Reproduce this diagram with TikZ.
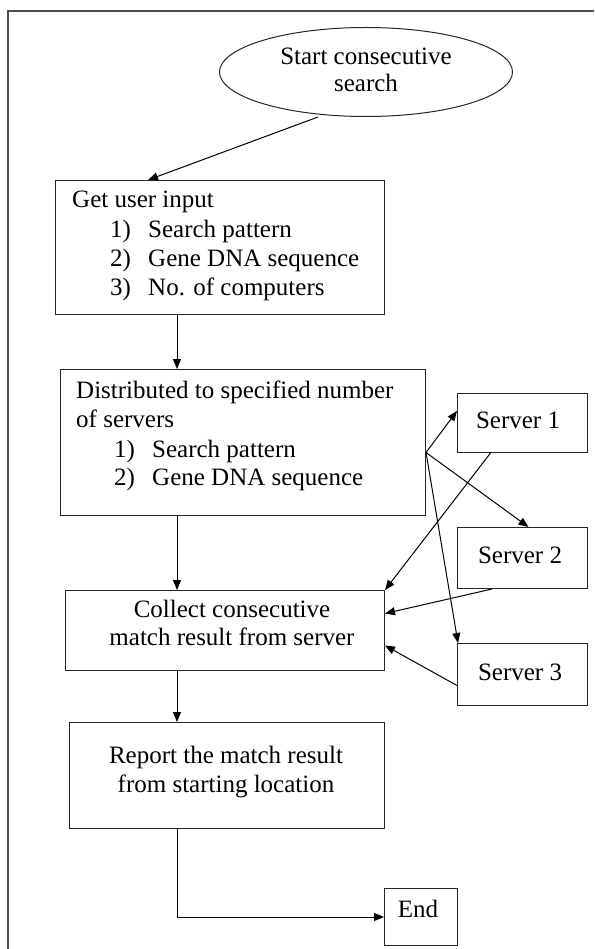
\documentclass[tikz,border=0pt]{standalone}
\usepackage{fontspec}
\setmainfont{Liberation Serif}
\usetikzlibrary{shapes.geometric,arrows.meta,calc}
\begin{document}
\begin{tikzpicture}[x=1pt,y=-1pt,
  box/.style={draw=black!85, line width=1pt, inner sep=0pt, anchor=north west},
  txt/.style={inner sep=0pt, font=\fontsize{25}{28}\selectfont, text=black},
  arr/.style={line width=1pt, -{Triangle[length=10pt,width=8pt]}},
  ln/.style={line width=1pt}]
\useasboundingbox[fill=white] (0,0) rectangle (594,949);
\draw[line width=1.5pt, black!70] (594,11) -- (8,11) -- (8,949);
% shapes
\node[draw=black!85, line width=1pt, ellipse, minimum width=293pt, minimum height=89pt] (start) at (366,72) {};
\node[box, minimum width=329pt, minimum height=134pt] (b1) at (55,180) {};
\node[box, minimum width=365pt, minimum height=146pt] (b2) at (60,369) {};
\node[box, minimum width=319pt, minimum height=80pt] (col) at (65,590) {};
\node[box, minimum width=315pt, minimum height=106pt] (rep) at (69,722) {};
\node[box, minimum width=130pt, minimum height=59pt] (s1) at (457,393) {};
\node[box, minimum width=130pt, minimum height=61pt] (s2) at (457,527) {};
\node[box, minimum width=130pt, minimum height=62pt] (s3) at (457,643) {};
\node[box, minimum width=73pt, minimum height=57pt] (end) at (384,888) {};
\coordinate (spine) at (177,0);
% texts
\node[txt, anchor=base] (st1) at (366,65) {Start consecutive};
\node[txt, anchor=base] (st2) at (366,92) {search};
\node[txt, anchor=base west] (g0) at (72,208) {Get user input};
\node[txt, anchor=base west] (g1n) at (110,238) {1)};
\node[txt, anchor=base west] (g1) at (148,238) {Search pattern};
\node[txt, anchor=base west] (g2n) at (110,267) {2)};
\node[txt, anchor=base west] (g2) at (148,267) {Gene DNA sequence};
\node[txt, anchor=base west] (g3n) at (110,295) {3)};
\node[txt, anchor=base west] (g3) at (148,295) {No. of computers};
\node[txt, anchor=base west] (d0) at (76,398) {Distributed to specified number};
\node[txt, anchor=base west] (d1) at (76,427) {of servers};
\node[txt, anchor=base west] (d2n) at (114,457) {1)};
\node[txt, anchor=base west] (d2) at (152,457) {Search pattern};
\node[txt, anchor=base west] (d3n) at (114,485) {2)};
\node[txt, anchor=base west] (d3) at (152,485) {Gene DNA sequence};
\node[txt, anchor=base] (c1) at (232,617) {Collect consecutive};
\node[txt, anchor=base] (c2) at (232,645) {match result from server};
\node[txt, anchor=base] (r1) at (226,763) {Report the match result};
\node[txt, anchor=base] (r2) at (226,792) {from starting location};
\node[txt, anchor=base] (s1t) at (518,428) {Server 1};
\node[txt, anchor=base] (s2t) at (520,563) {Server 2};
\node[txt, anchor=base] (s3t) at (520,680) {Server 3};
\node[txt, anchor=base] (endt) at (418,917) {End};
% connectors
\draw[arr] ([xshift=-48pt]start.south) -- ([xshift=93pt]b1.north west);
\draw[arr] (b1.south -| spine) -- (b2.north -| spine);
\draw[arr] (b2.south -| spine) -- (col.north -| spine);
\draw[arr] (col.south -| spine) -- (rep.north -| spine);
\draw[arr] (rep.south -| spine) |- (end.west);
\coordinate (fan) at ([yshift=-10pt]b2.east);
\draw[arr] (fan) -- ([yshift=12pt]s1.west);
\draw[arr] (fan) -- ([xshift=6pt]s2.north);
\draw[arr] (fan) -- ([xshift=1pt]s3.north west);
\draw[arr] ([xshift=-32pt]s1.south) -- (col.north east);
\draw[arr] ([xshift=35pt]s2.south west) -- ([yshift=17pt]col.east);
\draw[arr] ([yshift=-11pt]s3.west) -- ([yshift=-15pt]col.east);
\end{tikzpicture}
\end{document}
